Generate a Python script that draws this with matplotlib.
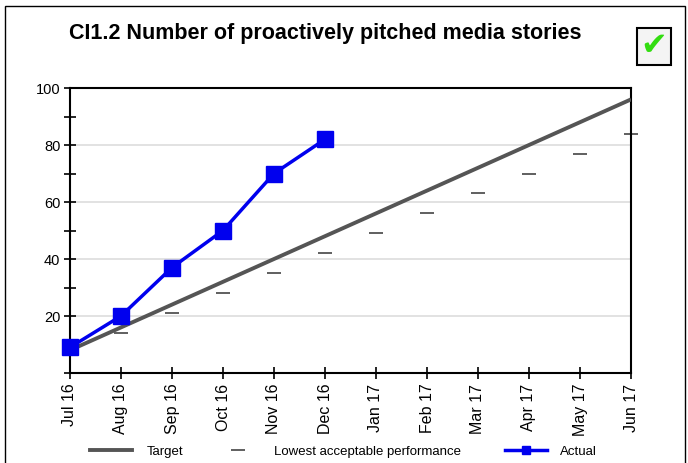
import numpy as np
import matplotlib.pyplot as plt
from matplotlib.patches import Rectangle
from matplotlib.lines import Line2D

plt.rcParams['font.family'] = ['Liberation Sans', 'DejaVu Sans']

months = ['Jul 16', 'Aug 16', 'Sep 16', 'Oct 16', 'Nov 16', 'Dec 16',
          'Jan 17', 'Feb 17', 'Mar 17', 'Apr 17', 'May 17', 'Jun 17']
target = [8, 16, 24, 32, 40, 48, 56, 64, 72, 80, 88, 96]
lowest = [7, 14, 21, 28, 35, 42, 49, 56, 63, 70, 77, 84]
actual = [9, 20, 37, 50, 70, 82]

fig = plt.figure(figsize=(6.88, 4.64), dpi=100)
ax = fig.add_axes([70/688, 1-374/464, (631-70)/688, (374-89)/464])

x = np.arange(len(months))
ax.plot(x, target, color='#555555', lw=2.8, solid_capstyle='butt', zorder=3)
ax.plot(x, lowest, ls='none', marker='_', color='#444444', ms=10, mew=1.2,
        clip_on=False, zorder=2)
ax.plot(x[:len(actual)], actual, color='#0000ee', lw=2.5, marker='s', ms=11,
        mfc='#0000ee', mec='#0000ee', clip_on=False, zorder=4)

ax.set_xlim(0, len(months)-1)
ax.set_ylim(0, 100)
ax.set_yticks(range(0, 101, 10))
ax.set_yticklabels(['' if v % 20 or v == 0 else str(v) for v in range(0, 101, 10)],
                   fontsize=10.5)
ax.set_xticks(x)
ax.set_xticklabels(months, rotation=90, fontsize=11.5)
for v in range(20, 100, 20):
    ax.axhline(v, color='#dddddd', lw=1.2, zorder=1)
ax.tick_params(direction='inout', length=8, width=1.2, pad=3)
for s in ax.spines.values():
    s.set_linewidth(1.5)

fig.text(325/688, 1-33/464, 'CI1.2 Number of proactively pitched media stories',
         ha='center', va='center', fontsize=15.5, fontweight='bold')

# check box
fig.patches.append(Rectangle((637/688, 1-66/464), 34/688, 37/464,
                             transform=fig.transFigure, fc='#f4f4f4', ec='black', lw=1.5))
fig.text(654/688, 1-47/464, '\u2714', color='#33dd11', fontsize=23,
         ha='center', va='center', family='DejaVu Sans')

# page border
fig.patches.append(Rectangle((5/688, -0.05), 680/688, 1-7/464+0.05,
                             transform=fig.transFigure, fill=False, ec='black', lw=1))

# legend, one entry at a time so the gaps match
entries = [(Line2D([], [], color='#555555', lw=2.8), 'Target', 90, 1.1),
           (Line2D([], [], ls='none', marker='_', color='#444444', ms=10, mew=1.2),
            'Lowest acceptable performance', 217, 1.15),
           (Line2D([], [], color='#0000ee', lw=2.5, marker='s', ms=6), 'Actual', 505, 0.95)]
for h, lab, x0, pad in entries:
    fig.legend([h], [lab], loc='center left', bbox_to_anchor=(x0/688, 1-452/464),
               frameon=False, fontsize=9.5, handlelength=3.2, handletextpad=pad,
               borderpad=0, borderaxespad=0)

fig.savefig('out.png', dpi=100)
